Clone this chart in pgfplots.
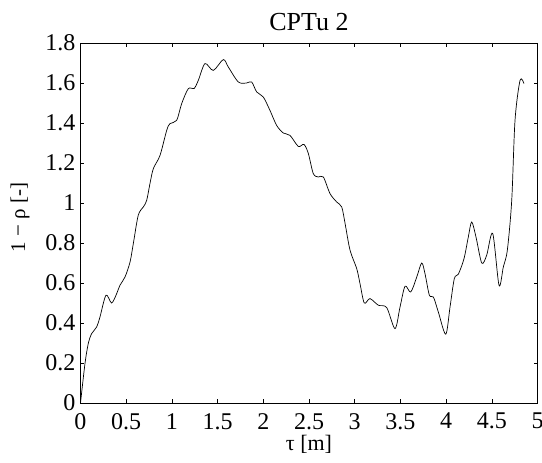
\documentclass[border=0pt]{standalone}
\usepackage{pgfplots}
\pgfplotsset{compat=1.18}
\usepackage{fontspec}
\setmainfont{Liberation Serif}
\begin{document}
\begin{tikzpicture}
\begin{axis}[
  name=ax,
  scale only axis,
  width=457bp, height=360bp,
  xmin=0, xmax=5, ymin=0, ymax=1.8,
  xtick={0,0.5,...,5}, ytick={0,0.2,...,1.8},
  tick align=inside,
  major tick length=4bp,
  axis line style={line width=0.8bp},
  every tick/.style={line width=0.6bp, black},
  /pgf/number format/assume math mode=true,
  /pgf/number format/fixed,
  tick label style={font=\fontsize{24bp}{28bp}\selectfont},
  xticklabel style={inner sep=1bp, yshift=-9bp},
  yticklabel style={/pgf/number format/precision=1, inner sep=5bp},
  every axis y label/.style={at={(axis description cs:-0.132,0.516)},rotate=90,anchor=center,font=\fontsize{21bp}{25bp}\selectfont},
  every axis x label/.style={at={(axis description cs:0.5,-0.131)},anchor=base,font=\fontsize{22bp}{26bp}\selectfont},
  every axis title/.style={at={(axis description cs:0.5,1.036)},anchor=base,font=\fontsize{26bp}{30bp}\selectfont},
  title={CPTu 2},
  xlabel={τ [m]},
  ylabel={1 − ρ [-]},
]
\addplot[black, line width=0.7bp, smooth, tension=0.5] coordinates {
(0,0) (0.049,0.197) (0.085,0.297) (0.122,0.347) (0.177,0.38) (0.213,0.43)
(0.279,0.539) (0.341,0.5) (0.396,0.547) (0.432,0.589) (0.487,0.63) (0.542,0.705)
(0.578,0.797) (0.632,0.939) (0.687,0.98) (0.724,1.013) (0.76,1.097) (0.797,1.172)
(0.87,1.238) (0.943,1.363) (0.979,1.397) (1.052,1.413) (1.107,1.497) (1.18,1.572)
(1.242,1.572) (1.289,1.613) (1.362,1.697) (1.453,1.663) (1.562,1.717) (1.617,1.68)
(1.727,1.605) (1.818,1.6) (1.873,1.605) (1.928,1.555) (2.0,1.53) (2.073,1.463)
(2.146,1.388) (2.219,1.35) (2.292,1.338) (2.383,1.283) (2.445,1.293) (2.493,1.247)
(2.547,1.147) (2.602,1.13) (2.657,1.13) (2.73,1.047) (2.803,1.005) (2.858,0.98)
(2.895,0.897) (2.949,0.764) (3.022,0.672) (3.058,0.597) (3.105,0.5) (3.167,0.522)
(3.258,0.489) (3.35,0.477) (3.441,0.372) (3.496,0.48) (3.551,0.584) (3.613,0.555)
(3.679,0.63) (3.733,0.7) (3.769,0.647) (3.817,0.539) (3.861,0.53) (3.915,0.455)
(3.996,0.344) (4.043,0.48) (4.09,0.622) (4.134,0.644) (4.196,0.722) (4.243,0.83)
(4.28,0.905) (4.327,0.83) (4.39,0.7) (4.444,0.739) (4.51,0.847) (4.579,0.589)
(4.626,0.68) (4.67,0.764) (4.718,1.013) (4.754,1.413) (4.809,1.613) (4.852,1.597)
};
\end{axis}
\pgfresetboundingbox
\path ([shift={(-80.5bp,-60bp)}]ax.south west) rectangle ([shift={(4.5bp,43bp)}]ax.north east);
\end{tikzpicture}
\end{document}
